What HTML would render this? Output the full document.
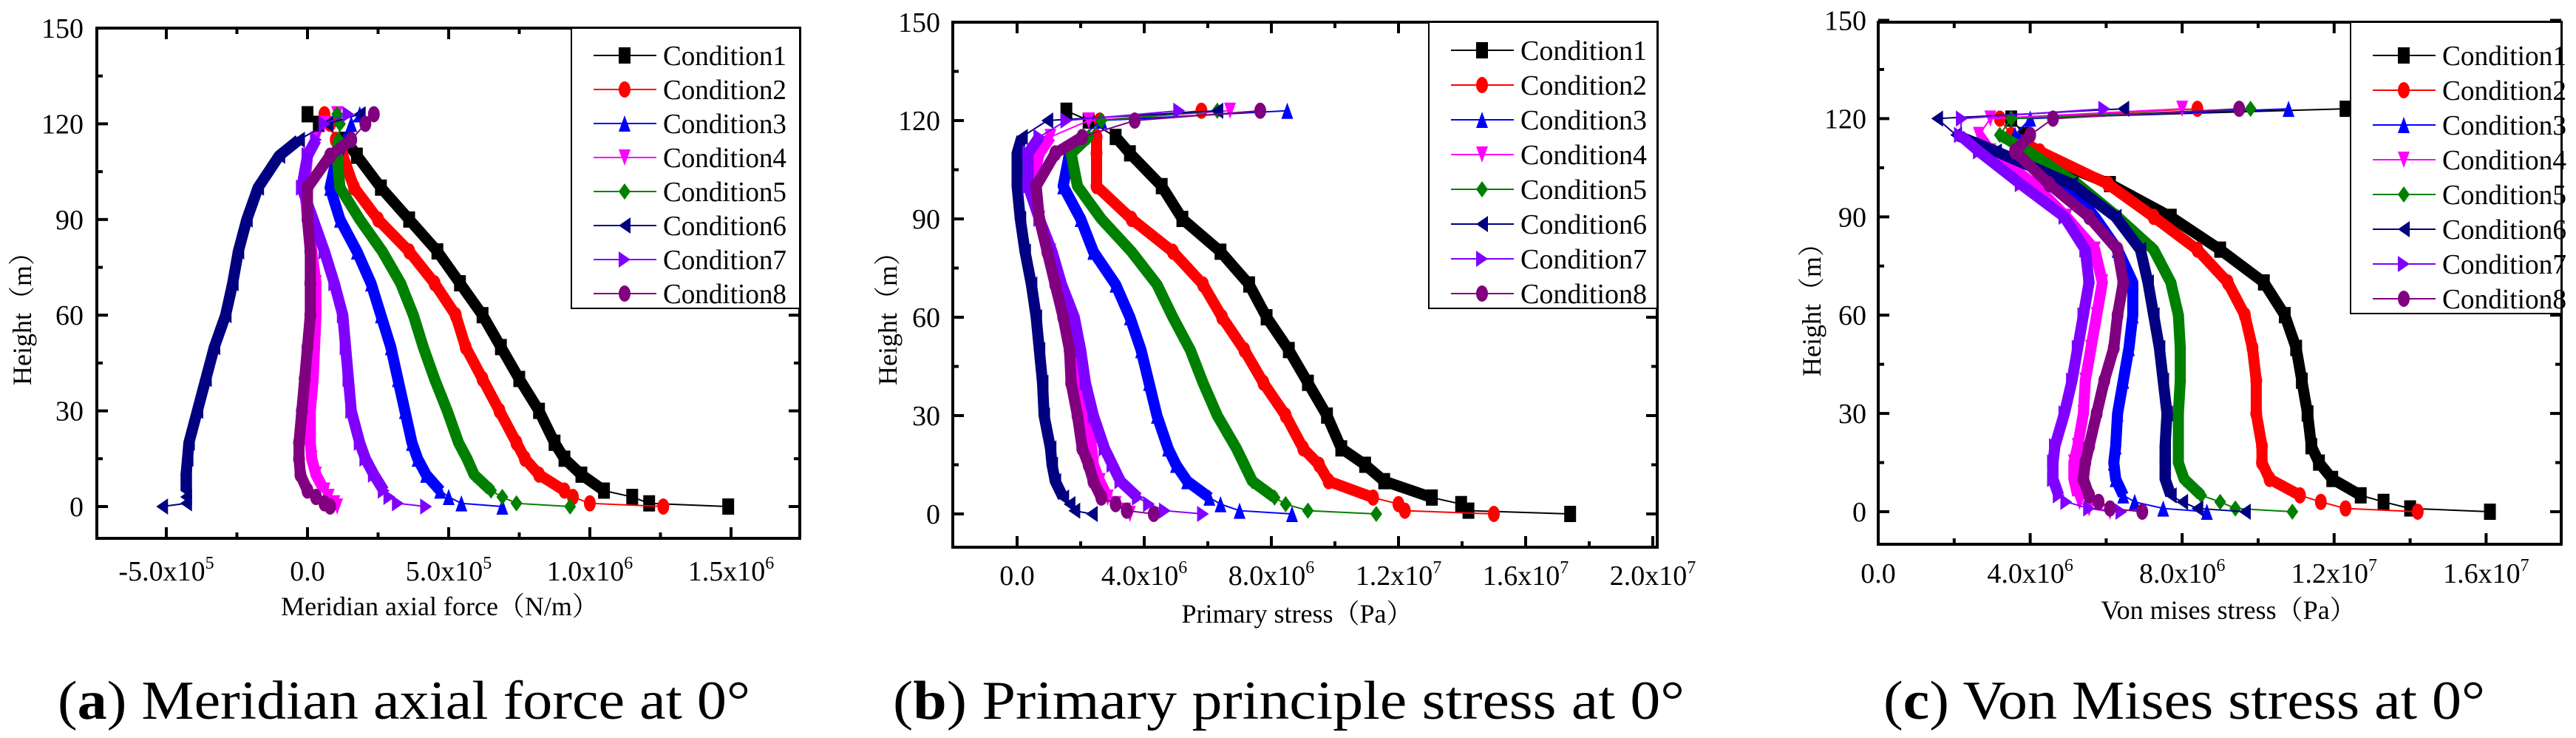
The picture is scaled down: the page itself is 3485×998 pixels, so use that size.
<!DOCTYPE html>
<html><head><meta charset="utf-8">
<style>
html,body{margin:0;padding:0;background:#fff;}
svg{display:block;font-family:"Liberation Serif","Noto Serif CJK SC",serif;}
</style></head>
<body>
<svg id="chart" width="3485" height="998" viewBox="0 0 3485 998" xmlns="http://www.w3.org/2000/svg">
<rect width="3485" height="998" fill="#fff"/>
</svg>
<script>
const heights=[0,1,3,5,10,15,20,30,40,50,60,70,80,90,100,110,115,120,123];
const seriesNames=["Condition1","Condition2","Condition3","Condition4","Condition5","Condition6","Condition7","Condition8"];
// Panel a values (x1e5 N/m)
const aC1=[14.9,12.1,11.5,10.5,9.7,9.1,8.75,8.2,7.5,6.85,6.2,5.4,4.6,3.6,2.6,1.75,1.35,0.4,0];
const aC2=[12.6,10.0,9.4,9.1,8.2,7.7,7.4,6.8,6.2,5.6,5.25,4.5,3.6,2.5,1.65,1.25,1.0,0.8,0.6];
const aC3=[6.9,5.45,5.0,4.7,4.2,3.9,3.7,3.45,3.2,2.95,2.6,2.25,1.75,1.15,0.8,1.05,1.3,1.55,1.85];
const aC4=[1.05,0.95,0.75,0.6,0.3,0.15,0.1,0.1,0.2,0.25,0.3,0.3,0.15,0,-0.1,0,0.3,0.6,1.05];
const aC5=[9.3,7.4,6.9,6.5,5.9,5.65,5.35,4.95,4.5,4.1,3.75,3.3,2.65,1.85,1.15,1.05,1.1,1.15,1.05];
const aC6=[-5.15,-4.3,-4.3,-4.3,-4.3,-4.25,-4.2,-3.9,-3.6,-3.3,-2.9,-2.65,-2.45,-2.15,-1.75,-1.0,-0.3,0.7,1.85];
const aC7=[4.2,3.2,2.9,2.7,2.35,2.05,1.85,1.55,1.45,1.35,1.25,0.95,0.6,0.2,-0.2,0,0.3,0.6,1.45];
const aC8=[0.8,0.6,0.3,0,-0.25,-0.3,-0.3,-0.2,-0.1,0,0.1,0.1,0.1,0,0,0.8,1.55,2.05,2.35];
// Panel b values (x1e6 Pa)
const bC1=[17.4,14.2,13.97,13.05,11.55,10.95,10.2,9.75,9.15,8.55,7.85,7.3,6.4,5.2,4.55,3.55,3.1,2.25,1.55];
const bC2=[15.0,12.2,12.0,11.2,9.8,9.5,9.0,8.45,7.75,7.15,6.45,5.85,4.9,3.6,2.5,2.5,2.5,2.6,5.8];
const bC3=[8.65,7.0,6.4,6.05,5.35,5.0,4.75,4.4,4.15,3.9,3.55,3.1,2.4,2.0,1.45,1.65,2.05,2.65,8.5];
const bC4=[3.55,3.4,3.1,2.85,2.6,2.4,2.35,2.15,1.9,1.7,1.55,1.3,1.05,0.7,0.45,0.7,1.05,2.25,6.7];
const bC5=[11.3,9.15,8.45,8.1,7.4,7.15,6.9,6.3,5.85,5.45,4.9,4.4,3.6,2.65,1.9,1.7,2.25,2.65,6.3];
const bC6=[2.35,1.8,1.65,1.45,1.2,1.1,1.05,0.85,0.8,0.7,0.6,0.45,0.25,0.1,0,0,0.15,0.95,6.3];
const bC7=[5.85,4.65,4.15,3.8,3.25,3.0,2.75,2.4,2.15,2.0,1.8,1.4,1.1,0.7,0.35,0.35,0.7,1.55,5.1];
const bC8=[4.3,3.45,3.1,2.65,2.4,2.25,2.05,1.9,1.7,1.65,1.45,1.2,0.95,0.7,0.6,1.2,2.05,3.7,7.65];
// Panel c values (x1e6 Pa)
const cC1=[16.1,14.0,13.3,12.7,11.95,11.6,11.4,11.3,11.15,11.0,10.7,10.15,9.0,7.7,6.1,4.0,3.85,3.5,12.3];
const cC2=[14.2,12.3,11.65,11.1,10.3,10.1,10.1,9.95,9.95,9.85,9.65,9.2,8.4,7.25,6.05,4.25,3.5,3.2,8.4];
const cC3=[8.65,7.5,6.75,6.45,6.25,6.2,6.25,6.3,6.45,6.6,6.7,6.7,6.3,5.7,4.95,3.8,3.6,4.0,10.8];
const cC4=[6.1,5.55,5.3,5.25,5.15,5.15,5.25,5.4,5.45,5.6,5.75,5.9,5.7,4.95,4.1,2.95,2.65,2.95,8.0];
const cC5=[10.9,9.4,9.0,8.5,8.05,7.9,7.9,7.9,7.95,7.95,7.9,7.7,7.25,6.3,5.25,3.95,3.2,3.5,9.8];
const cC6=[9.65,8.4,8.0,7.7,7.55,7.55,7.55,7.6,7.5,7.4,7.25,7.1,6.9,6.25,5.1,3.1,2.05,1.55,6.45];
const cC7=[6.4,5.55,4.95,4.75,4.6,4.6,4.65,4.9,5.1,5.25,5.4,5.55,5.45,4.9,3.75,2.65,2.15,2.2,5.95];
const cC8=[6.95,6.1,5.8,5.55,5.4,5.45,5.55,5.75,5.95,6.2,6.3,6.45,6.3,5.55,4.5,3.6,4.0,4.6,9.5];
// Tick values
const yTicks=[0,30,60,90,120,150];
const aXTicks=[-5,0,5,10,15];
const aXLabels=[["-5.0x10","5"],["0.0",""],["5.0x10","5"],["1.0x10","6"],["1.5x10","6"]];
const bXTicks=[0,4,8,12,16,20];
const bXLabels=[["0.0",""],["4.0x10","6"],["8.0x10","6"],["1.2x10","7"],["1.6x10","7"],["2.0x10","7"]];
const cXTicks=[0,4,8,12,16];
const cXLabels=[["0.0",""],["4.0x10","6"],["8.0x10","6"],["1.2x10","7"],["1.6x10","7"]];

const colors=["#000000","#ff0000","#0000ff","#ff00ff","#008000","#000080","#8000ff","#800080"];
const NS="http://www.w3.org/2000/svg";
const svg=document.getElementById('chart');
function mk(tag,attrs,parent){const e=document.createElementNS(NS,tag);for(const k in attrs)e.setAttribute(k,attrs[k]);(parent||svg).appendChild(e);return e;}

const panels=[
 {id:'a',L:131,R:1082,T:38,B:728,x0:416,kx:38.2,y0:685,ky:4.313,xt:aXTicks,xl:aXLabels,minorStep:2.5,
  data:[aC1,aC2,aC3,aC4,aC5,aC6,aC7,aC8],xlabY:785,ylabR:113,xtitle:"Meridian axial force（N/m）",xtX:595,xtY:832,
  ytX:30,ytY:422,leg:{x:773,y:38,w:309,h:379,r0:75,dr:46,tl:167},
  cap:{x:78,w:937,pre:"(",b:"a",post:") Meridian axial force at 0°"}},
 {id:'b',L:1289,R:2242,T:30,B:740,x0:1376,kx:43,y0:695,ky:4.433,xt:bXTicks,xl:bXLabels,minorStep:2,
  data:[bC1,bC2,bC3,bC4,bC5,bC6,bC7,bC8],xlabY:791,ylabR:1272,xtitle:"Primary stress（Pa）",xtX:1755,xtY:842,
  ytX:1201,ytY:422,leg:{x:1933,y:30,w:309,h:387,r0:68,dr:47,tl:171},
  cap:{x:1208,w:1071,pre:"(",b:"b",post:") Primary principle stress at 0°"}},
 {id:'c',L:2541,R:3465,T:30,B:736,x0:2541,kx:51.4,y0:692,ky:4.43,xt:cXTicks,xl:cXLabels,minorStep:2,
  data:[cC1,cC2,cC3,cC4,cC5,cC6,cC7,cC8],xlabY:788,ylabR:2525,xtitle:"Von mises stress（Pa）",xtX:3015,xtY:837,
  ytX:2451,ytY:410,leg:{x:3180,y:30,w:285,h:394,r0:75,dr:47,tl:168},
  cap:{x:2548,w:814,pre:"(",b:"c",post:") Von Mises stress at 0°"}}
];

function marker(g,type,cx,cy,color,sx,sy){
  let e;
  if(type===0) e=mk('rect',{x:cx-sx,y:cy-sy,width:2*sx,height:2*sy,fill:color},g);
  else if(type===1||type===7) e=mk('ellipse',{cx:cx,cy:cy,rx:sx,ry:sy,fill:color},g);
  else {
    let pts;
    if(type===2) pts=[[cx,cy-sy],[cx+sx,cy+sy],[cx-sx,cy+sy]];
    else if(type===3) pts=[[cx-sx,cy-sy],[cx+sx,cy-sy],[cx,cy+sy]];
    else if(type===4) pts=[[cx,cy-sy],[cx+sx,cy],[cx,cy+sy],[cx-sx,cy]];
    else if(type===5) pts=[[cx-sx,cy],[cx+sx,cy-sy],[cx+sx,cy+sy]];
    else pts=[[cx+sx,cy],[cx-sx,cy-sy],[cx-sx,cy+sy]];
    e=mk('polygon',{points:pts.map(p=>p.join(',')).join(' '),fill:color},g);
  }
  return e;
}

panels.forEach(p=>{
  const g=mk('g',{});
  
  
  const X=v=>p.x0+v*p.kx, Y=h=>p.y0-h*p.ky;
  // series
  p.data.forEach((vals,si)=>{
    const sg=mk('g',{},g);
    
    
    const pts=heights.map((h,i)=>[X(vals[i]),Y(h)]);
    const band=pts.slice(3,17).map(q=>q.join(',')).join(' ');
    const bl=mk('polyline',{points:band,fill:'none',stroke:colors[si],'stroke-width':15,'stroke-linejoin':'round'},sg);
    
    
    const ln=mk('polyline',{points:pts.map(q=>q.join(',')).join(' '),fill:'none',stroke:colors[si],'stroke-width':2},sg);
    
    
    pts.forEach(q=>{
      const m=marker(sg,si,q[0],q[1],colors[si],8,11);
      
      
    });
  });
  // frame
  const fr=mk('rect',{x:p.L,y:p.T,width:p.R-p.L,height:p.B-p.T,fill:'none',stroke:'#000','stroke-width':4},g);
  
  
  // y ticks
  for(let h=0;h<=150;h+=15){
    const len=(h%30===0)?15:8,y=Y(h);
    mk('line',{x1:p.L,y1:y,x2:p.L+len,y2:y,stroke:'#000','stroke-width':4},g);
    mk('line',{x1:p.R,y1:y,x2:p.R-len,y2:y,stroke:'#000','stroke-width':4},g);
  }
  yTicks.forEach(h=>{
    const t=mk('text',{x:p.ylabR,y:Y(h)+13,'text-anchor':'end','font-size':38},g);
    t.textContent=String(h);
    
    
  });
  // x ticks
  const lo=Math.ceil(((p.L-p.x0)/p.kx)/p.minorStep)*p.minorStep;
  for(let v=lo;X(v)<p.R-3;v+=p.minorStep){
    if(X(v)<p.L+3) continue;
    const major=p.xt.some(t=>Math.abs(t-v)<1e-6),len=major?15:8,x=X(v);
    mk('line',{x1:x,y1:p.B,x2:x,y2:p.B-len,stroke:'#000','stroke-width':4},g);
    mk('line',{x1:x,y1:p.T,x2:x,y2:p.T+len,stroke:'#000','stroke-width':4},g);
  }
  p.xt.forEach((v,i)=>{
    const t=mk('text',{x:X(v),y:p.xlabY,'text-anchor':'middle','font-size':38},g);
    
    
    t.appendChild(document.createTextNode(p.xl[i][0]));
    if(p.xl[i][1]){const s=mk('tspan',{dy:-16,'font-size':24},t);s.textContent=p.xl[i][1];}
  });
  // axis titles
  const xt=mk('text',{x:p.xtX,y:p.xtY,'text-anchor':'middle','font-size':36},g);
  xt.textContent=p.xtitle;
  
  
  const yt=mk('text',{x:0,y:0,'text-anchor':'middle','font-size':36,transform:`translate(${p.ytX+12},${p.ytY}) rotate(-90)`},g);
  yt.textContent="Height（m）";
  
  
  // legend
  const lg=mk('g',{},g);
  
  
  mk('rect',{x:p.leg.x,y:p.leg.y,width:p.leg.w,height:p.leg.h,fill:'#fff',stroke:'#000','stroke-width':2},lg);
  seriesNames.forEach((n,si)=>{
    const e=mk('g',{},lg);
    
    
    const y=p.leg.r0+si*p.leg.dr,lx=p.leg.x+30;
    mk('line',{x1:lx,y1:y,x2:lx+85,y2:y,stroke:colors[si],'stroke-width':2},e);
    marker(e,si,lx+42,y,colors[si],8,11);
    const t=mk('text',{x:lx+94,y:y+13,'font-size':38,textLength:p.leg.tl,lengthAdjust:'spacingAndGlyphs'},e);
    t.textContent=n;
  });
  // caption
  const c=mk('text',{x:p.cap.x,y:972,'font-size':74,textLength:p.cap.w,lengthAdjust:'spacingAndGlyphs'},g);
  
  
  c.appendChild(document.createTextNode(p.cap.pre));
  const b=mk('tspan',{'font-weight':'bold'},c);b.textContent=p.cap.b;
  c.appendChild(document.createTextNode(p.cap.post));
});
</script>
</body></html>
